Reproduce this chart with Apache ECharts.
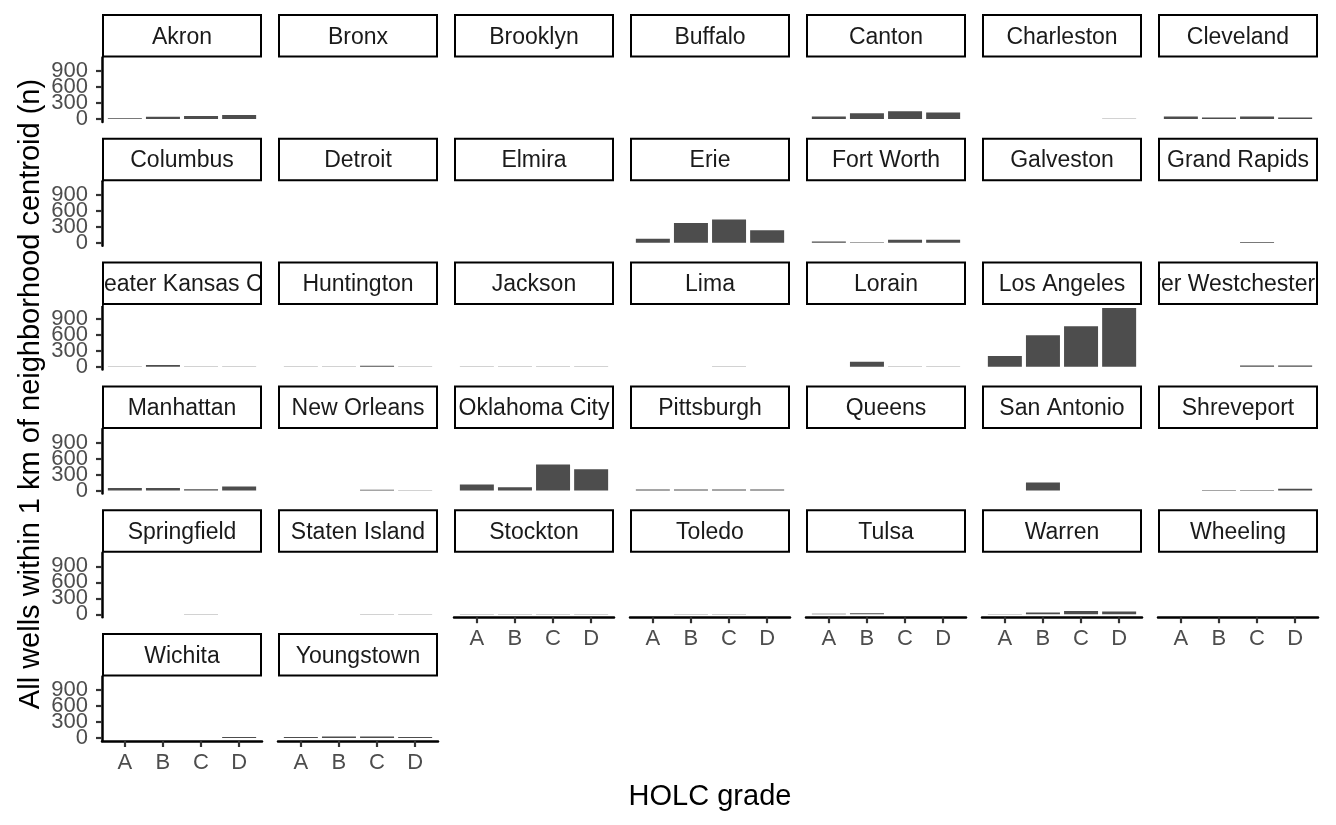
<!DOCTYPE html>
<html>
<head>
<meta charset="utf-8">
<script src="https://cdn.jsdelivr.net/npm/echarts@6/dist/echarts.min.js"></script>
<style>
html,body{margin:0;padding:0;background:#ffffff;}
#chart{width:1336px;height:825px;}
</style>
</head>
<body>
<div id="chart"></div>
<script>
// ---------- data ----------
const cities = ['Akron','Bronx','Brooklyn','Buffalo','Canton','Charleston','Cleveland',
  'Columbus','Detroit','Elmira','Erie','Fort Worth','Galveston','Grand Rapids',
  'Greater Kansas City','Huntington','Jackson','Lima','Lorain','Los Angeles','Lower Westchester Co.',
  'Manhattan','New Orleans','Oklahoma City','Pittsburgh','Queens','San Antonio','Shreveport',
  'Springfield','Staten Island','Stockton','Toledo','Tulsa','Warren','Wheeling',
  'Wichita','Youngstown'];
const grades = ['A','B','C','D'];
const gradeA = [15,0,0,0,50,0,50,  0,0,0,75,25,0,0,  3,3,2,0,0,200,0,  45,0,112,20,0,0,0,  2,0,3,0,10,3,0,  3,20];
const gradeB = [45,0,0,0,110,2,30, 3,0,0,375,12,0,0, 30,3,2,0,90,590,0, 45,0,62,20,0,150,10, 0,0,5,3,20,35,0, 0,30];
const gradeC = [57,0,0,0,148,2,50, 3,0,0,437,60,0,15, 5,15,2,3,5,760,22, 25,15,487,20,0,0,10, 3,3,5,3,2,60,0, 0,30];
const gradeD = [76,0,0,0,124,4,30, 0,2,2,238,60,3,0,  5,3,2,0,5,1100,22, 75,3,400,20,0,0,30, 2,3,3,0,2,50,0, 20,20];
const yTicks = [0,300,600,900];
const yTitle = 'All wells within 1 km of neighborhood centroid (n)';
const xTitle = 'HOLC grade';

// ---------- layout ----------
const FONT = '"Liberation Sans", Arial, Helvetica, sans-serif';
const COLS = 7, X0 = 102, DX = 176, PW = 160;
const Y0 = 14, DY = 123.8, SH = 43.5, PH = 64.5;
const Y_MIN = -55, Y_MAX = 1155;
const values = [gradeA, gradeB, gradeC, gradeD];
const n = cities.length;

const ctx = document.createElement('canvas').getContext('2d');
ctx.font = '23px "Liberation Sans"';

const grid = [], xAxis = [], yAxis = [], series = [], graphic = [];

function makeY(i, show, tickVals, lineShow) {
  return {
    gridIndex: i, type: 'value', min: Y_MIN, max: Y_MAX, show: show, position: 'left', offset: 0,
    axisLine: {show: lineShow, onZero: false, lineStyle: {color: '#000', width: 2.5}},
    axisTick: {show: true, length: 6, customValues: tickVals, lineStyle: {color: '#333', width: 2.2}},
    axisLabel: {show: true, customValues: tickVals, showMinLabel: true, showMaxLabel: true, hideOverlap: false,
      margin: 14, color: '#4d4d4d', fontSize: 22, fontFamily: FONT},
    splitLine: {show: false}
  };
}

for (let i = 0; i < n; i++) {
  const r = Math.floor(i / COLS), c = i % COLS;
  const left = X0 + c * DX;
  const stripTop = Y0 + r * DY;
  const top = stripTop + SH;
  const isBottom = (i + COLS >= n);
  const isLeft = (c === 0);

  grid.push({left: left, top: top, width: PW, height: PH, containLabel: false, outerBoundsMode: 'none'});

  xAxis.push({
    gridIndex: i, type: 'value', min: 0.4, max: 4.6, show: isBottom,
    axisLine: {show: true, onZero: false, lineStyle: {color: '#000', width: 2.5}},
    axisTick: {show: true, length: 6, customValues: [1,2,3,4], lineStyle: {color: '#333', width: 2.2}},
    axisLabel: {show: true, customValues: [1,2,3,4], showMinLabel: true, showMaxLabel: true, hideOverlap: false,
      margin: 11, color: '#4d4d4d', fontSize: 22, fontFamily: FONT,
      formatter: v => grades[Math.round(v) - 1] || ''},
    splitLine: {show: false}
  });

  // main y axis (one tick value) + extra axes so every tick label is kept
  const mainY = yAxis.length;
  if (isLeft) {
    yTicks.forEach((t, k) => yAxis.push(makeY(i, true, [t], k === 0)));
  } else {
    yAxis.push(makeY(i, false, [0], false));
  }

  series.push({
    type: 'bar', xAxisIndex: i, yAxisIndex: mainY, barWidth: 34, silent: true,
    itemStyle: {color: '#4d4d4d'},
    data: grades.map((g, k) => [k + 1, values[k][i]])
  });

  // strip
  const tw = ctx.measureText(cities[i]).width;
  const overflow = tw > PW - 4;
  graphic.push({
    type: 'rect', z: overflow ? 1 : 10,
    shape: {x: left + 1, y: stripTop + 1, width: PW - 2, height: SH - 2},
    style: {fill: '#ffffff', stroke: overflow ? null : '#000', lineWidth: 2}
  });
  graphic.push({
    type: 'text', z: overflow ? 2 : 11, x: left + PW / 2, y: stripTop + SH / 2 + 1.5,
    style: {text: cities[i], font: '23px ' + FONT, fill: '#1a1a1a',
      align: 'center', verticalAlign: 'middle', textAlign: 'center', textVerticalAlign: 'middle'}
  });
  if (overflow) {
    const ow = Math.ceil((tw - PW) / 2) + 6;
    graphic.push({type: 'rect', z: 3, shape: {x: left - ow, y: stripTop - 2, width: ow, height: SH + 3},
      style: {fill: '#ffffff'}});
    graphic.push({type: 'rect', z: 3, shape: {x: left + PW, y: stripTop - 2, width: ow, height: SH + 3},
      style: {fill: '#ffffff'}});
    graphic.push({type: 'rect', z: 12,
      shape: {x: left + 1, y: stripTop + 1, width: PW - 2, height: SH - 2},
      style: {fill: null, stroke: '#000', lineWidth: 2}});
  }
}

graphic.push({
  type: 'text', z: 20, x: 31, y: 394, rotation: Math.PI / 2,
  style: {text: yTitle, font: '29px ' + FONT, fill: '#000',
    align: 'center', verticalAlign: 'middle', textAlign: 'center', textVerticalAlign: 'middle'}
});
graphic.push({
  type: 'text', z: 20, x: X0 + (COLS * DX - (DX - PW)) / 2, y: 797,
  style: {text: xTitle, font: '29px ' + FONT, fill: '#000',
    align: 'center', verticalAlign: 'middle', textAlign: 'center', textVerticalAlign: 'middle'}
});

const chart = echarts.init(document.getElementById('chart'), null, {renderer: 'canvas'});
chart.setOption({
  backgroundColor: '#ffffff',
  animation: false,
  grid: grid, xAxis: xAxis, yAxis: yAxis, series: series,
  graphic: {elements: graphic}
});
</script>
</body>
</html>
